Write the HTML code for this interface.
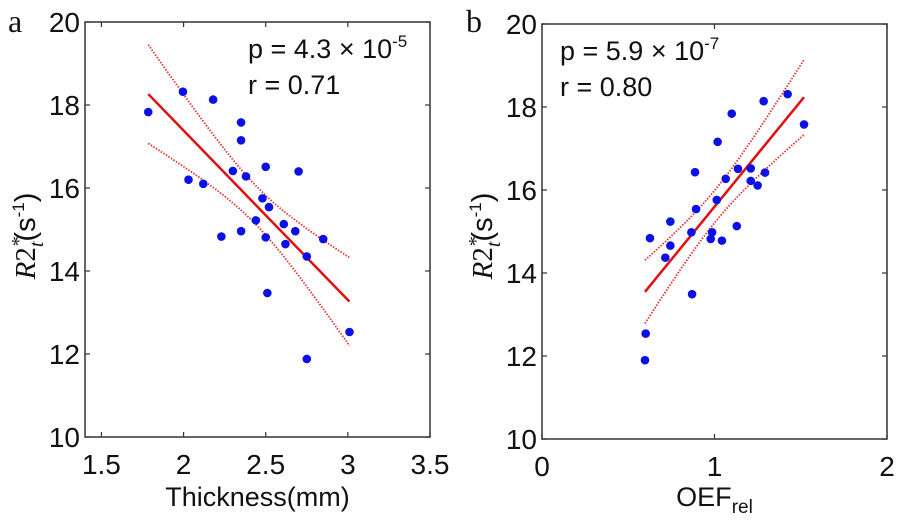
<!DOCTYPE html>
<html><head><meta charset="utf-8"><style>
html,body{margin:0;padding:0;background:#fff;}
svg{display:block;font-family:"Liberation Sans",Arial,sans-serif;}
</style></head><body>
<svg id="fig" width="900" height="523" viewBox="0 0 900 523" xmlns="http://www.w3.org/2000/svg"></svg>
<script>
const thickX=[1.785,1.996,2.18,2.35,2.35,2.03,2.12,2.30,2.38,2.50,2.70,2.48,2.52,2.44,2.61,2.68,2.35,2.23,2.50,2.62,2.85,2.75,2.51,3.01,2.75];
const thickY=[17.83,18.32,18.13,17.58,17.15,16.2,16.1,16.41,16.28,16.51,16.40,15.75,15.54,15.22,15.13,14.96,14.96,14.83,14.81,14.65,14.77,14.35,13.47,12.53,11.88];
const oefX=[0.597,0.601,0.626,0.715,0.744,0.744,0.870,0.866,0.893,0.887,0.986,0.978,1.043,1.013,1.018,1.065,1.100,1.129,1.136,1.210,1.210,1.250,1.293,1.285,1.424,1.519];
const oefY=[11.90,12.54,14.84,14.37,14.66,15.24,13.49,14.98,15.54,16.43,14.98,14.82,14.78,15.76,17.16,16.27,17.84,15.13,16.51,16.52,16.22,16.11,16.42,18.14,18.31,17.58];
const yTicks=[10,12,14,16,18,20];
const xTicksA=[1.5,2,2.5,3,3.5];
const xTickLabelsA=["1.5","2","2.5","3","3.5"];
const xTicksB=[0,1,2];
const xTickLabelsB=["0","1","2"];

const NS="http://www.w3.org/2000/svg";
const svg=document.getElementById('fig');
function mk(tag,attrs,parent,text){const e=document.createElementNS(NS,tag);for(const k in attrs)e.setAttribute(k,attrs[k]);if(text!==undefined)e.textContent=text;(parent||svg).appendChild(e);return e;}

function panel(cfg){
  const g=mk('g',{});
  
  
  const sx=v=>cfg.x0+(v-cfg.xmin)/(cfg.xmax-cfg.xmin)*(cfg.x1-cfg.x0);
  const sy=v=>cfg.y1-(v-10)/10*(cfg.y1-cfg.y0);
  const box=mk('rect',{x:cfg.x0,y:cfg.y0,width:cfg.x1-cfg.x0,height:cfg.y1-cfg.y0,fill:'none',stroke:'#333','stroke-width':1.5},g);
  
  
  yTicks.forEach(t=>{
    const y=sy(t);
    mk('line',{x1:cfg.x0,x2:cfg.x0+5,y1:y,y2:y,stroke:'#333','stroke-width':1.2},g);
    mk('line',{x1:cfg.x1,x2:cfg.x1-5,y1:y,y2:y,stroke:'#333','stroke-width':1.2},g);
    const tl=mk('text',{x:cfg.x0-5,y:y+10,'text-anchor':'end','font-size':28,fill:'#111'},g,String(t));
    
    
  });
  cfg.xt.forEach((t,i)=>{
    const x=sx(t);
    mk('line',{x1:x,x2:x,y1:cfg.y1,y2:cfg.y1-5,stroke:'#333','stroke-width':1.2},g);
    mk('line',{x1:x,x2:x,y1:cfg.y0,y2:cfg.y0+5,stroke:'#333','stroke-width':1.2},g);
    const tl=mk('text',{x:x,y:cfg.y1+37,'text-anchor':'middle','font-size':28,fill:'#111'},g,cfg.xl[i]);
    
    
  });
  const X=cfg.X,Y=cfg.Y,n=X.length;
  const mx=X.reduce((a,b)=>a+b)/n,my=Y.reduce((a,b)=>a+b)/n;
  let sxx=0,sxy=0;X.forEach((x,i)=>{sxx+=(x-mx)**2;sxy+=(x-mx)*(Y[i]-my);});
  const b=sxy/sxx,a=my-b*mx;
  let sse=0;X.forEach((x,i)=>{sse+=(Y[i]-a-b*x)**2;});
  const s=Math.sqrt(sse/(n-2)),t=2.07;
  const xmin=Math.min(...X),xmax=Math.max(...X);
  let up=[],lo=[];
  for(let k=0;k<=40;k++){const x=xmin+(xmax-xmin)*k/40;const yh=a+b*x;const w=t*s*Math.sqrt(1/n+(x-mx)**2/sxx);
    up.push(sx(x)+','+sy(yh+w));lo.push(sx(x)+','+sy(yh-w));}
  const cu=mk('polyline',{points:up.join(' '),fill:'none',stroke:'#d33','stroke-width':1.8,'stroke-dasharray':'1.5 1.5'},g);
  
  
  const cl=mk('polyline',{points:lo.join(' '),fill:'none',stroke:'#d33','stroke-width':1.8,'stroke-dasharray':'1.5 1.5'},g);
  
  
  const fl=mk('line',{x1:sx(xmin),y1:sy(a+b*xmin),x2:sx(xmax),y2:sy(a+b*xmax),stroke:'#e01010','stroke-width':2.5},g);
  
  
  X.forEach((x,i)=>{
    const c=mk('circle',{cx:sx(x),cy:sy(Y[i]),r:4.3,fill:'#0a10e6'},g);
    
    
  });
  const p=mk('text',{x:cfg.tx,y:cfg.y0+36,'font-size':27,fill:'#111'},g);
  
  
  p.innerHTML='p = '+cfg.p+' × 10<tspan font-size="17" dy="-11">'+cfg.e+'</tspan>';
  const r=mk('text',{x:cfg.tx,y:cfg.y0+72,'font-size':27,fill:'#111'},g,'r = '+cfg.r);
  
  
  const lt=mk('text',{x:cfg.lx,y:32,'font-size':32,'font-family':'Liberation Serif,serif',fill:'#111'},g,cfg.letter);
  
  
  const yl=mk('text',{x:0,y:0,'font-size':29,fill:'#111',transform:'translate('+cfg.ylx+',236) rotate(-90)','text-anchor':'middle'},g);
  
  
  yl.innerHTML='<tspan font-family="Liberation Serif,serif" font-style="italic">R</tspan><tspan font-family="Liberation Serif,serif">2</tspan><tspan font-family="Liberation Serif,serif" font-style="italic" font-size="20" dy="-10">*</tspan><tspan font-family="Liberation Serif,serif" font-style="italic" font-size="20" dx="-10" dy="18">t</tspan><tspan dy="-8">(s</tspan><tspan font-size="17" dy="-11">-1</tspan><tspan dy="11">)</tspan>';
  const xl=mk('text',{x:(cfg.x0+cfg.x1)/2,y:506,'text-anchor':'middle','font-size':27,fill:'#111'},g);
  
  
  xl.innerHTML=cfg.xtitle;
}
panel({name:'panel-a',x0:85,x1:430,y0:22,y1:437,xmin:1.4,xmax:3.5,X:thickX,Y:thickY,xt:xTicksA,xl:xTickLabelsA,
  tx:248,p:'4.3',e:'-5',r:'0.71',letter:'a',lx:8,ylx:35,xtitle:'Thickness(mm)'});
panel({name:'panel-b',x0:542,x1:887,y0:24,y1:439,xmin:0,xmax:2,X:oefX,Y:oefY,xt:xTicksB,xl:xTickLabelsB,
  tx:560,p:'5.9',e:'-7',r:'0.80',letter:'b',lx:466,ylx:492,xtitle:'OEF<tspan font-size="19" dy="7">rel</tspan>'});
</script>
</body></html>
